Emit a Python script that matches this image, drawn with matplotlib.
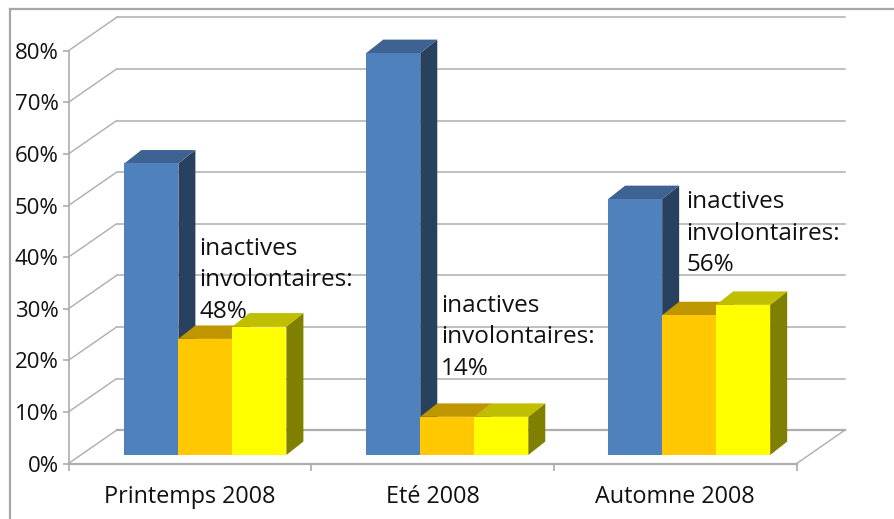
import matplotlib
matplotlib.use("Agg")
import matplotlib.pyplot as plt
from matplotlib.lines import Line2D
from matplotlib.patches import Polygon

categories = ["Printemps 2008", "Eté 2008", "Automne 2008"]
blue_vals = [56.5, 77.9, 49.6]
orange_vals = [22.5, 7.4, 27.1]
yellow_vals = [24.9, 7.4, 29.1]
inactive_labels = ["48%", "14%", "56%"]
y_ticks = [0, 10, 20, 30, 40, 50, 60, 70, 80]

W, H = 894, 519
GRID = "#adadad"
FONT = "Open Sans"

# chart depth, in data units (x = category, y = percent)
WALL_DX, WALL_DY = 0.198, 6.45
BAR_X0, BAR_Y0 = 0.064, 1.65
BAR_DX, BAR_DY = 0.07, 2.6
BAR_W = 0.2225
GROUP_STEP = 0.9965

series = [
    (blue_vals, "#4f81bd", "#3e6392", "#28415f"),
    (orange_vals, "#ffc800", "#bf9600", "#806400"),
    (yellow_vals, "#ffff00", "#bfbf00", "#808000"),
]

fig = plt.figure(figsize=(W / 100, H / 100), dpi=100)
# outer frame, only left and top are in the crop
fig.add_artist(Line2D([10 / W, 10 / W], [0, 1 - 9 / H], color="#a6a6a6", lw=1.6))
fig.add_artist(Line2D([10 / W, 1], [1 - 9 / H, 1 - 9 / H], color="#a6a6a6", lw=1.6))

# axes = front plane of the 3d box
ax = fig.add_axes([68.5 / W, 1 - 463.5 / H, 728.2 / W, 412.8 / H])
ax.set_xlim(0, 3)
ax.set_ylim(0, 80)
ax.patch.set_visible(False)
for s in ax.spines.values():
    s.set_visible(False)
ax.spines["left"].set_visible(True)
ax.spines["bottom"].set_visible(True)
ax.spines["left"].set_color(GRID)
ax.spines["bottom"].set_color(GRID)
ax.spines["left"].set_linewidth(1.2)
ax.spines["bottom"].set_linewidth(1.6)

ax.set_yticks(y_ticks)
ax.set_yticklabels([f"{v}%" for v in y_ticks], fontsize=16, family=FONT, color="#111111")
ax.set_xticks([0, 1, 2, 3])
ax.set_xticklabels([])
ax.tick_params(axis="both", color=GRID, length=4, width=1.2)
ax.tick_params(axis="x", length=5)
ax.tick_params(axis="y", pad=3)
for i, c in enumerate(categories):
    ax.text(i + 0.5, -6.5, c, ha="center", va="center", fontsize=16.8, family=FONT, color="#111111", clip_on=False)

# walls
for v in y_ticks:
    lw = 1.6 if v == 0 else 1.1
    ax.plot([WALL_DX, 3 + WALL_DX], [v + WALL_DY, v + WALL_DY], color=GRID, lw=lw, clip_on=False, zorder=1)
    ax.plot([0, WALL_DX], [v, v + WALL_DY], color=GRID, lw=1.0, clip_on=False, zorder=1)
ax.plot([3, 3 + WALL_DX], [0, WALL_DY], color=GRID, lw=1.0, clip_on=False, zorder=1)

# bars
z = 3
for i in range(len(categories)):
    x = i * GROUP_STEP + 0.5 - 1.5 * BAR_W + BAR_X0
    for vals, front, top, side in series:
        v = vals[i]
        ax.add_patch(Polygon([(x + BAR_W, BAR_Y0), (x + BAR_W + BAR_DX, BAR_Y0 + BAR_DY),
                              (x + BAR_W + BAR_DX, BAR_Y0 + v + BAR_DY), (x + BAR_W, BAR_Y0 + v)],
                             fc=side, ec="none", clip_on=False, zorder=z))
        ax.add_patch(Polygon([(x, BAR_Y0 + v), (x + BAR_DX, BAR_Y0 + v + BAR_DY),
                              (x + BAR_W + BAR_DX, BAR_Y0 + v + BAR_DY), (x + BAR_W, BAR_Y0 + v)],
                             fc=top, ec="none", clip_on=False, zorder=z))
        ax.bar(x, v, BAR_W, bottom=BAR_Y0, align="edge", color=front, clip_on=False, zorder=z + 0.5)
        x += BAR_W
        z += 1

# labels next to the blue bars
label_x = [0.54, 1.535, 2.545]
label_y = [41.6, 30.6, 50.6]
for i, lab in enumerate(inactive_labels):
    lines = ["inactives", "involontaires:", lab]
    for k, txt in enumerate(lines):
        ax.text(label_x[i], label_y[i] - k * 6.1, txt, ha="left", va="center", fontsize=17.5, family=FONT,
                color="#111111", clip_on=False, zorder=50)

fig.savefig("out.png", dpi=100)
